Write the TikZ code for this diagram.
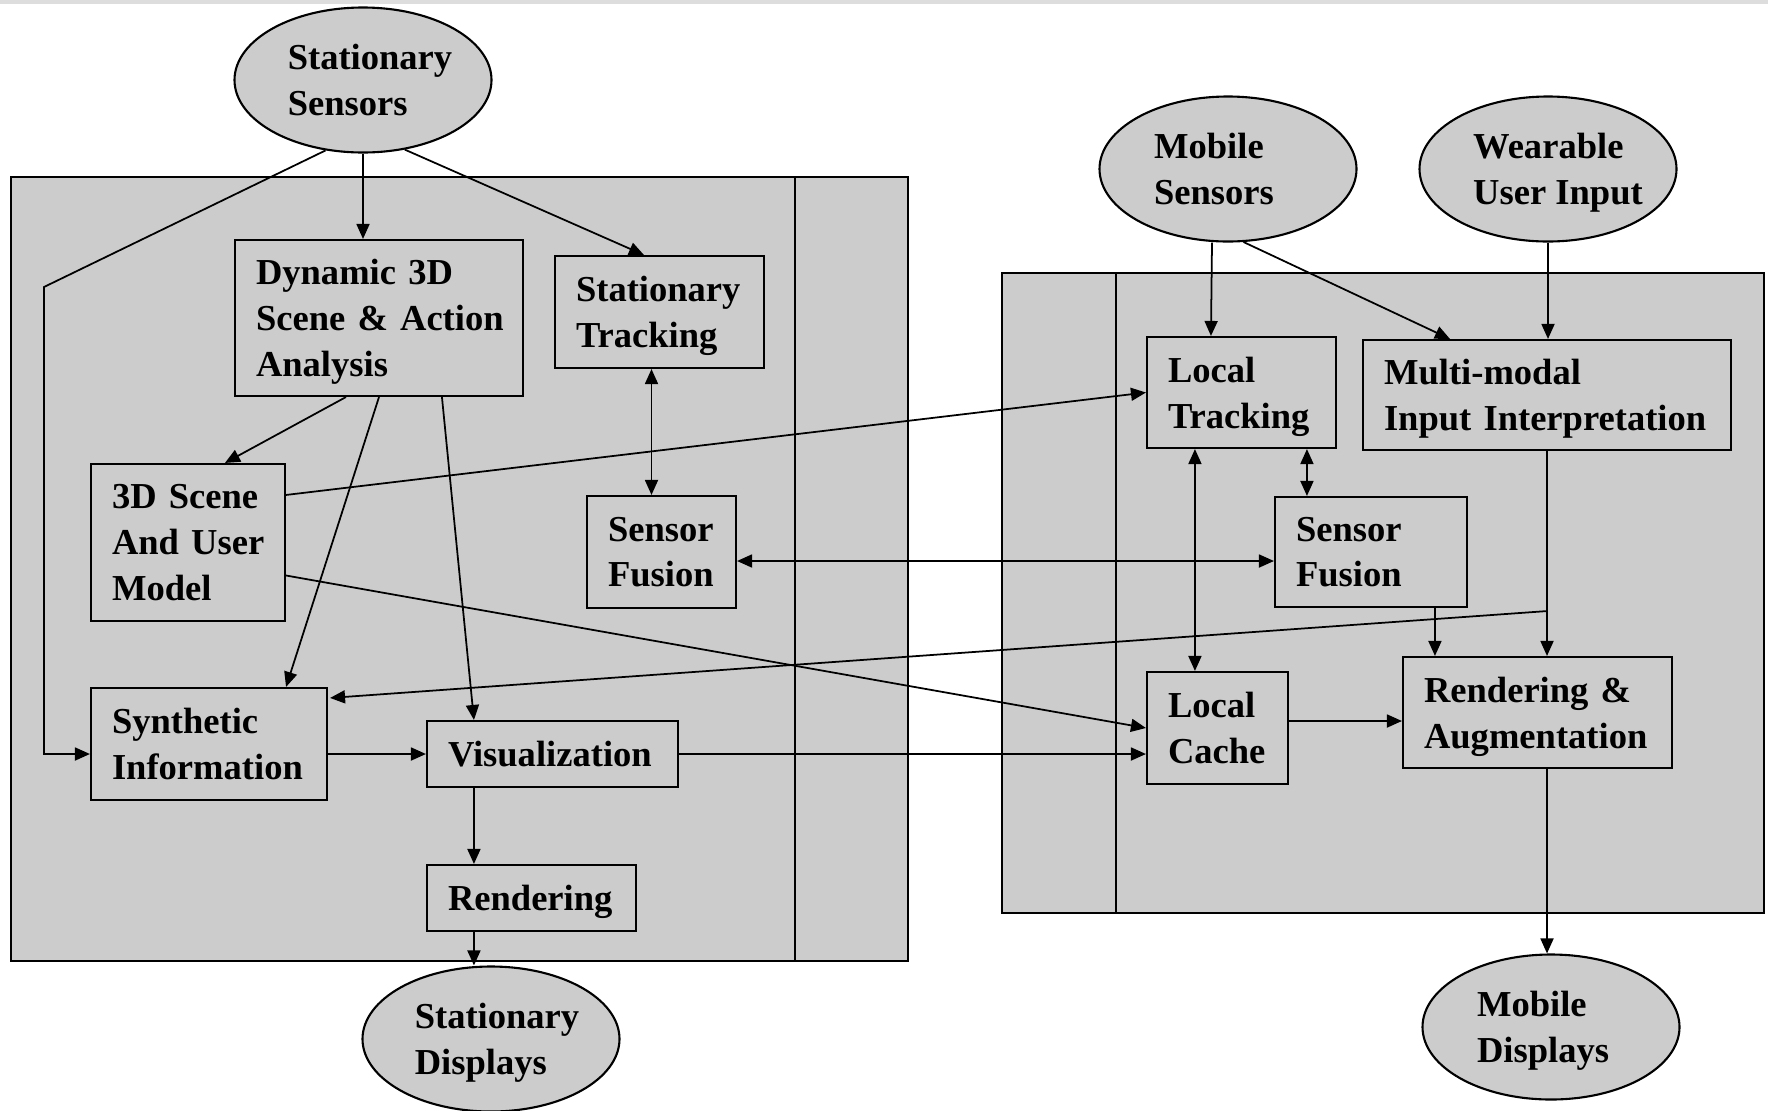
\documentclass[tikz,border=0pt]{standalone}
\usepackage{fontspec}
\setmainfont{Liberation Serif}
\usetikzlibrary{calc,arrows.meta,shapes.geometric}
\definecolor{panelgray}{HTML}{CCCCCC}
\definecolor{stripgray}{HTML}{DDDDDD}
\newcommand\diagfont{\fontsize{10.4}{13}\selectfont\bfseries\hyphenpenalty=10000\exhyphenpenalty=10000}
\newcommand\nodp[1]{\raisebox{0pt}[\height][0pt]{#1}}
\tikzset{
	unit/.style={draw, fill=panelgray, line width=0.6pt, align=left, font=\diagfont, inner xsep=2.1mm, inner ysep=0pt},
	source/.style={ellipse, draw, fill=panelgray, line width=0.6pt, align=left, font=\diagfont, inner sep=-4mm, minimum width=25.7mm, minimum height=14.5mm},
	flow/.style={line width=0.5pt, -{Triangle[length=1.5mm,width=1.3mm]}},
	twoway/.style={line width=0.5pt, {Triangle[length=1.5mm,width=1.3mm]}-{Triangle[length=1.5mm,width=1.3mm]}}
}

\begin{document}
\begin{tikzpicture}[x=0.1mm, y=-0.1mm]
		%%%%% START %%%%%
		\useasboundingbox (0,0) rectangle (1768,1110);
		\fill[stripgray] (0,0) rectangle (1768,4);
		
		\draw[fill=panelgray, line width=0.6pt] (11,177) rectangle (908,961);
		\draw[line width=0.6pt] (795,177) -- (795,961);
		\draw[fill=panelgray, line width=0.6pt] (1002,273) rectangle (1764,913);
		\draw[line width=0.6pt] (1116,273) -- (1116,913);
		
		\node[source] (ssens) at (363,80) {\hspace*{1.4mm}Stationary\\\hspace*{1.4mm}Sensors};
		\node[source] (msens) at (1228,169) {Mobile\hspace*{2.8mm}\\Sensors\hspace*{2.8mm}};
		\node[source] (wear) at (1548,169) {\hspace*{2mm}Wearable\\\hspace*{2mm}\nodp{User~Input}};
		\node[source] (sdisp) at (491,1039) {\hspace*{1.2mm}Stationary\\\hspace*{1.2mm}\nodp{Displays}};
		\node[source] (mdisp) at (1551,1027) {Mobile\hspace*{1.6mm}\\\nodp{Displays}\hspace*{1.6mm}};
		
		\node[unit, text width=24.6mm, minimum height=15.6mm] (dyn) at (379,318) {Dynamic~3D\\Scene~\&~Action\\\nodp{Analysis}};
		\node[unit, text width=16.7mm, minimum height=11.2mm] (strack) at (659.5,312) {Stationary\\\nodp{Tracking}};
		\node[unit, text width=15.2mm, minimum height=15.7mm] (scene) at (188,542.5) {3D~Scene\\And~User\\Model};
		\node[unit, text width=10.7mm, minimum height=11.2mm] (sfuseL) at (661.5,552) {Sensor\\Fusion};
		\node[unit, text width=19.4mm, minimum height=11.2mm] (synth) at (209,744) {Synthetic\\Information};
		\node[unit, text width=20.9mm, minimum height=6.6mm] (vis) at (552.5,754) {Visualization};
		\node[unit, text width=16.7mm, minimum height=6.6mm] (rend) at (531.5,898) {\nodp{Rendering}};
		
		\node[unit, text width=14.7mm, minimum height=11.1mm] (ltrack) at (1241.5,392.5) {Local\\\nodp{Tracking}};
		\node[unit, text width=32.6mm, minimum height=11.0mm] (multi) at (1547,395) {Multi-modal\\\nodp{Input~Interpretation}};
		\node[unit, text width=15.0mm, minimum height=11.0mm] (sfuseR) at (1371,552) {Sensor\\Fusion};
		\node[unit, text width=9.9mm, minimum height=11.2mm] (lcache) at (1217.5,728) {Local\\Cache};
		\node[unit, text width=22.7mm, minimum height=11.1mm] (raug) at (1537.5,712.5) {Rendering~\&\\\nodp{Augmentation}};
		
		% stationary side
		\coordinate (bend) at (44,287);
		\coordinate (stx) at ($(strack.south)+(-8,0)$);
		\coordinate (rx) at ($(rend.south west)+(48,0)$);
		\draw[flow] (ssens.south) -- (ssens.south |- dyn.north);
		\draw[flow] (ssens.-59) -- ($(strack.north west)+(90,0)$);
		\draw[flow] (ssens.-118) -- (bend) -- (bend |- vis.west) -- (synth.west |- vis.west);
		\draw[flow] ($(dyn.south west)+(112,0)$) -- ($(scene.north west)+(135,0)$);
		\draw[flow] (dyn.south) -- ($(synth.north east)+(-42,0)$);
		\draw[flow] ($(dyn.south west)+(208,0)$) -- ($(vis.north west)+(48,0)$);
		\draw[twoway] (stx) -- (stx |- sfuseL.north);
		\draw[flow] (synth.east |- vis.west) -- (vis.west);
		\draw[flow] ($(vis.south west)+(48,0)$) -- ($(rend.north west)+(48,0)$);
		\draw[flow] (rx) -- (rx |- sdisp.north);
		
		% across
		\draw[twoway] ($(sfuseL.east)+(0,9)$) -- ($(sfuseR.west)+(0,9)$);
		\draw[flow] ($(scene.north east)+(0,32)$) -- (ltrack.west);
		\draw[flow] ($(scene.east)+(0,33)$) -- (lcache.west);
		\draw[flow] (vis.east) -- (vis.east -| lcache.west);
		\draw[flow] ($(multi.south)+(0,160)$) -- ($(synth.north east)+(2,11)$);
		
		% mobile side
		\coordinate (fx) at ($(sfuseR.north west)+(33,0)$);
		\coordinate (ax) at ($(raug.north west)+(33,0)$);
		\coordinate (cx) at ($(lcache.east)+(0,-7)$);
		\draw[flow] ($(msens.south)+(-16,0)$) -- ($(ltrack.north west)+(65,0)$);
		\draw[flow] (msens.-78) -- ($(multi.north west)+(88,0)$);
		\draw[flow] (wear.south) -- (wear.south |- multi.north);
		\draw[twoway] ($(ltrack.south west)+(49,0)$) -- ($(lcache.north west)+(49,0)$);
		\draw[twoway] (fx |- ltrack.south) -- (fx);
		\draw[flow] (ax |- sfuseR.south) -- (ax);
		\draw[flow] (multi.south) -- (multi.south |- raug.north);
		\draw[flow] (cx) -- (cx -| raug.west);
		\draw[flow] (multi.south |- raug.south) -- (multi.south |- mdisp.north);
		
		%%%%% END %%%%%
	\end{tikzpicture}
\end{document}
